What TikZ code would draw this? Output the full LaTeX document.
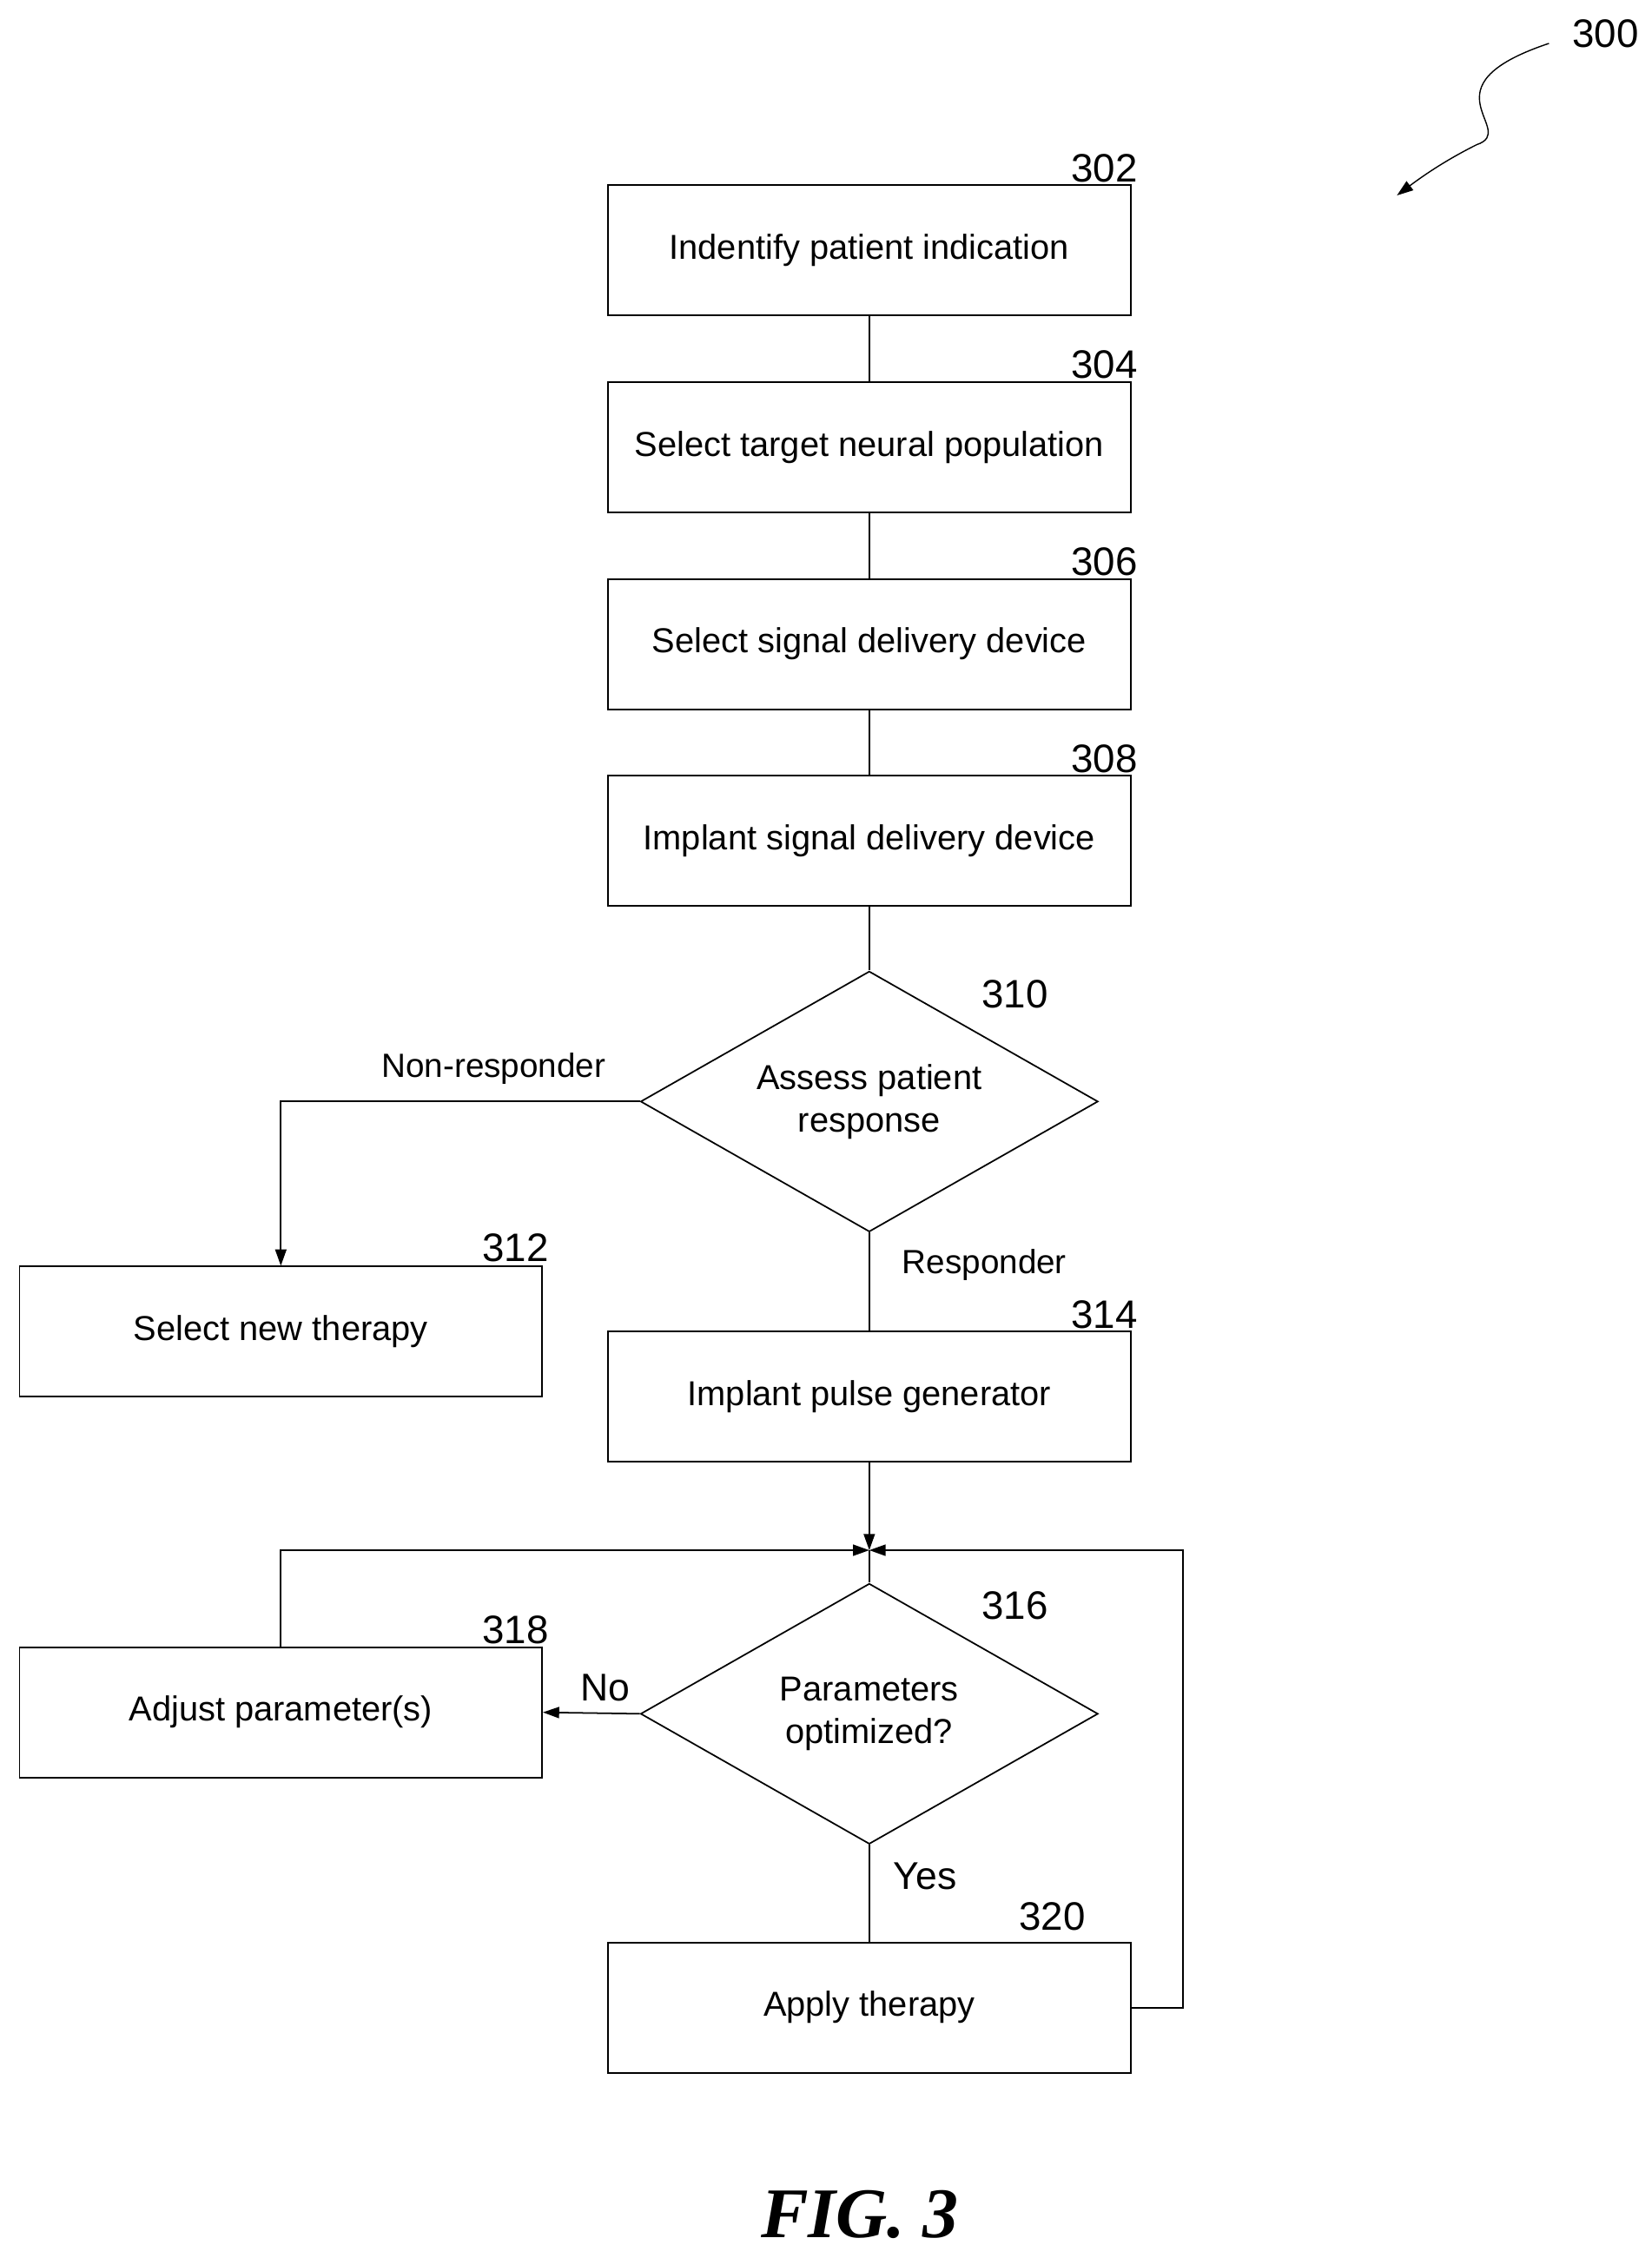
\documentclass[tikz,border=0pt]{standalone}
\usepackage{fontspec}
\setmainfont{Liberation Sans}
\newfontfamily\figfont{Liberation Serif}
\usetikzlibrary{shapes.geometric,arrows.meta}
\begin{document}
\begin{tikzpicture}[x=0.05cm,y=-0.05cm,
  box/.style={draw,line width=1.5pt,minimum width=18.05cm,minimum height=4.5cm,inner sep=0pt,font=\fontsize{34}{40}\selectfont},
  dia/.style={draw,line width=1.5pt,diamond,minimum width=15.8cm,minimum height=9cm,inner sep=0pt,aspect=1.75,align=center,font=\fontsize{34}{42}\selectfont},
  num/.style={font=\fontsize{39}{44}\selectfont,inner sep=0pt},
  lab/.style={font=\fontsize{33}{38}\selectfont,inner sep=0pt},
  ln/.style={line width=1.5pt},
  arr/.style={line width=1.5pt,-{Triangle[length=16pt,width=11pt]}}]
\useasboundingbox (0,0) rectangle (1141,1560);
\node[box] (b302) at (600.5,173) {Indentify patient indication};
\node[box] (b304) at (600.5,309) {Select target neural population};
\node[box] (b306) at (600.5,445) {Select signal delivery device};
\node[box] (b308) at (600.5,581) {Implant signal delivery device};
\node[dia] (d310) at (600.5,761) {Assess patient\\response};
\node[box] (b312) at (194,920) {Select new therapy};
\node[box] (b314) at (600.5,965) {Implant pulse generator};
\node[dia] (d316) at (600.5,1184) {Parameters\\optimized?};
\node[box] (b318) at (194,1183) {Adjust parameter(s)};
\node[box] (b320) at (600.5,1387) {Apply therapy};
\coordinate (j) at (600.5,1071);
\node[num] at (763,116) {302};
\node[num] at (763,252) {304};
\node[num] at (763,388) {306};
\node[num] at (763,524) {308};
\node[num] at (701,687) {310};
\node[num] at (356,862) {312};
\node[num] at (763,908) {314};
\node[num] at (701,1109) {316};
\node[num] at (356,1126) {318};
\node[num] at (727,1324) {320};
\node[num] at (1109,23) {300};
\node[lab] at (341,738) {Non-responder};
\node[lab] at (680,874) {Responder};
\node[lab,font=\fontsize{38}{42}\selectfont] at (418,1166) {No};
\node[lab,font=\fontsize{38}{42}\selectfont] at (639,1296) {Yes};
\node[font=\fontsize{70}{80}\selectfont\figfont\bfseries\itshape,inner sep=0pt] at (594,1530) {FIG. 3};
\draw[ln] (b302) -- (b304);
\draw[ln] (b304) -- (b306);
\draw[ln] (b306) -- (b308);
\draw[ln] (b308) -- (d310);
\draw[arr] (d310.west) -| (b312.north);
\draw[ln] (d310) -- (b314);
\draw[arr] (b314.south) -- (j);
\draw[ln] (j) -- (d316.north);
\draw[arr] (d316.west) -- (b318.east);
\draw[ln] (d316) -- (b320);
\draw[arr] (b318.north) |- (j);
\draw[arr] (b320.east) -- (817,1387) |- (j);
\draw[arr,line width=1.2pt] (1070,30) .. controls (980,60) and (1050,90) .. (1020,100) .. controls (1000,110) and (985,120) .. (965,135);
\end{tikzpicture}
\end{document}
